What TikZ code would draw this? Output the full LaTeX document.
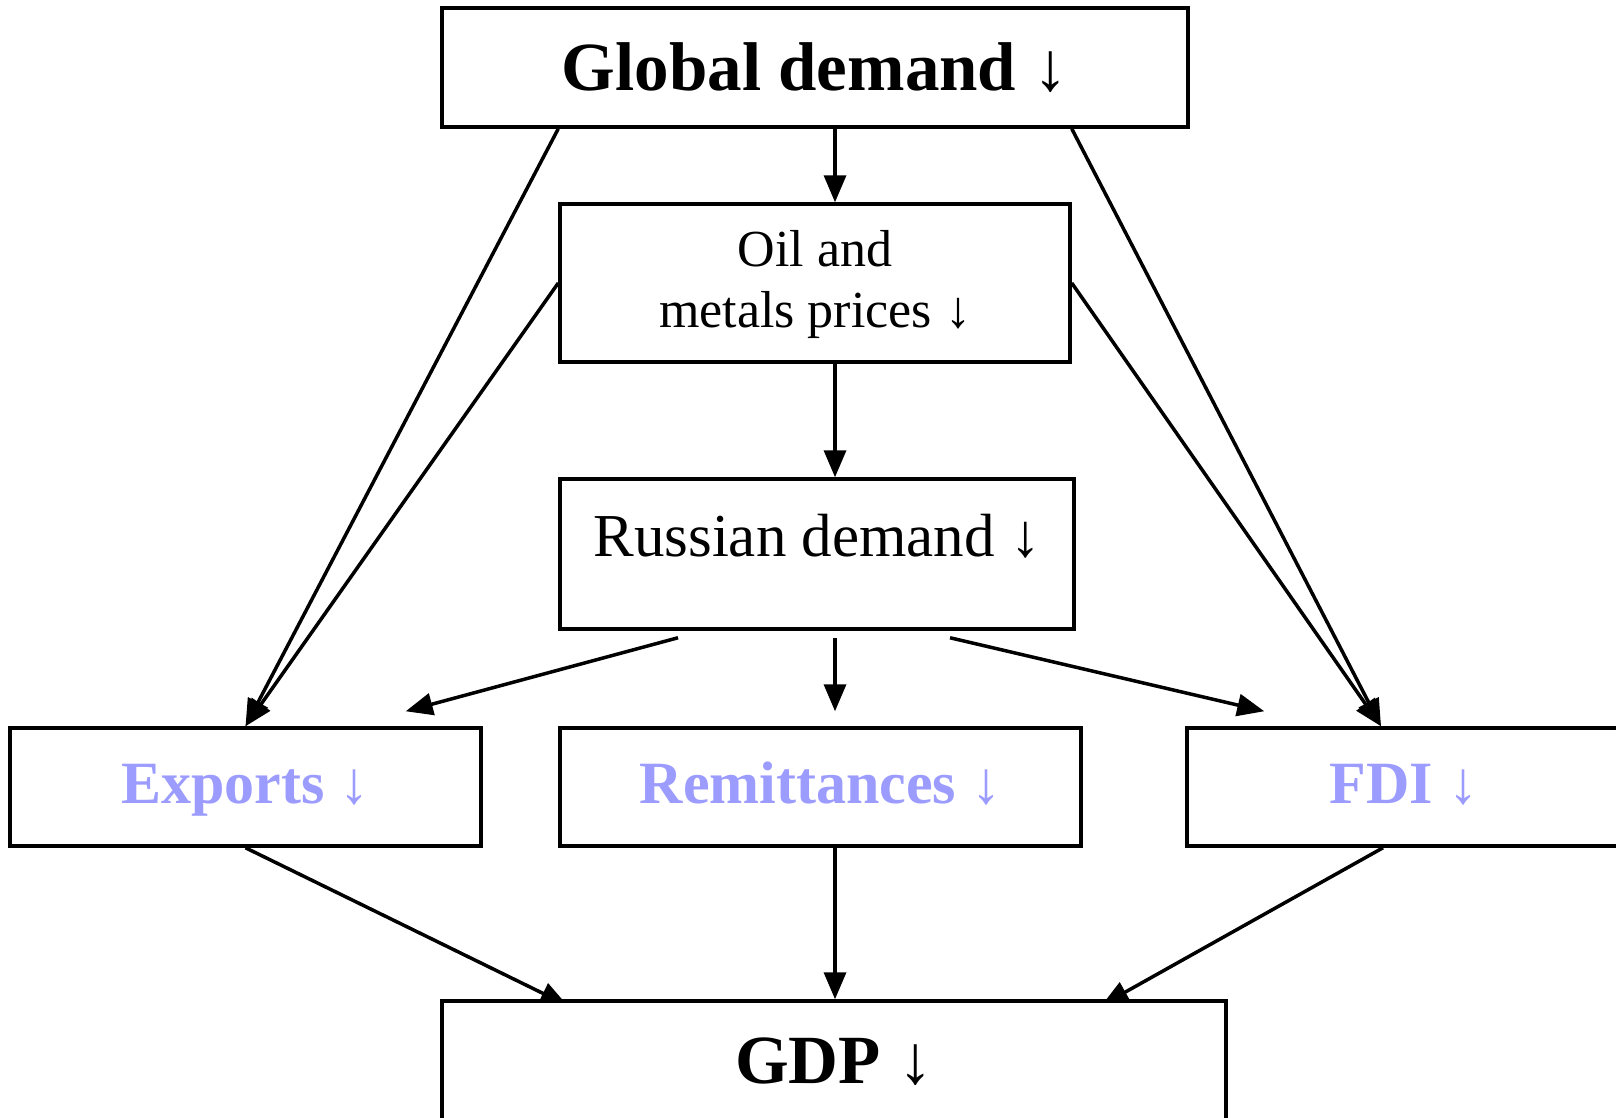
\documentclass[tikz,border=0pt]{standalone}
\usepackage{fontspec}
\setmainfont{Liberation Serif}
\usetikzlibrary{arrows.meta}
\usetikzlibrary{backgrounds}

\definecolor{shockblue}{HTML}{9C9CFF}

\tikzset{
	box/.style={draw, line width=3.5pt, fill=white, inner sep=0pt, align=center},
	link/.style={line width=3.5pt, -{Triangle[length=27pt,width=22pt]}},
	bigbold/.style={font=\fontsize{69}{80}\selectfont\bfseries},
	channel/.style={font=\fontsize{60}{70}\selectfont\bfseries, text=shockblue, text height=46pt, text depth=14pt}
}

\begin{document}
\begin{tikzpicture}[x=1pt, y=-1pt]
	\useasboundingbox (0,0) rectangle (1616,1117);
	\clip (0,0) rectangle (1616,1117);

	% boxes
	\node[box, bigbold, minimum width=746pt, minimum height=119pt] (global) at (815,67.5) {Global demand ↓};
	\node[box, font=\fontsize{52}{61}\selectfont, minimum width=510pt, minimum height=158pt, text depth=8pt] (oil) at (815,283) {Oil and\\metals prices ↓};
	\node[box, font=\fontsize{61}{70}\selectfont, minimum width=514pt, minimum height=150pt, text height=45pt, text depth=40pt] (russ) at (817,554) {Russian demand ↓};
	\node[box, channel, minimum width=471pt, minimum height=118pt] (exp) at (245.5,787) {Exports ↓};
	\node[box, channel, minimum width=521pt, minimum height=118pt] (rem) at (820.5,787) {Remittances ↓};
	\node[box, channel, minimum width=434pt, minimum height=118pt] (fdi) at (1404,787) {FDI ↓};
	\node[box, bigbold, minimum width=784pt, minimum height=122pt] (gdp) at (834,1062) {GDP ↓};

	\coordinate (spine) at (835,0);

	% global demand and prices
	\draw[link] (global.south -| spine) -- (oil.north -| spine);
	\draw[link] (oil.south -| spine) -- (russ.north -| spine);
	\draw[link] (global.south -| oil.west) -- (exp.north);
	\draw[link] (oil.west) -- (exp.north);
	\draw[link] (global.south -| oil.east) -- ([xshift=-23pt]fdi.north);
	\draw[link] (oil.east) -- ([xshift=-23pt]fdi.north);

	% russian demand
	\draw[link] ([xshift=-139pt,yshift=-7pt]russ.south) -- ([xshift=-77pt,yshift=15pt]exp.north east);
	\draw[link] ([yshift=-7pt]russ.south -| spine) -- ([yshift=15pt]rem.north -| spine);
	\draw[link] ([xshift=133pt,yshift=-7pt]russ.south) -- ([xshift=79pt,yshift=15pt]fdi.north west);

	% into GDP
	\draw[link] (rem.south -| spine) -- (gdp.north -| spine);
	\begin{scope}[on background layer]
		\draw[link] (exp.south) -- ([xshift=127pt,yshift=-6pt]gdp.north west);
		\draw[link] ([xshift=-21pt]fdi.south) -- ([xshift=-126pt,yshift=-6pt]gdp.north east);
	\end{scope}
\end{tikzpicture}
\end{document}
